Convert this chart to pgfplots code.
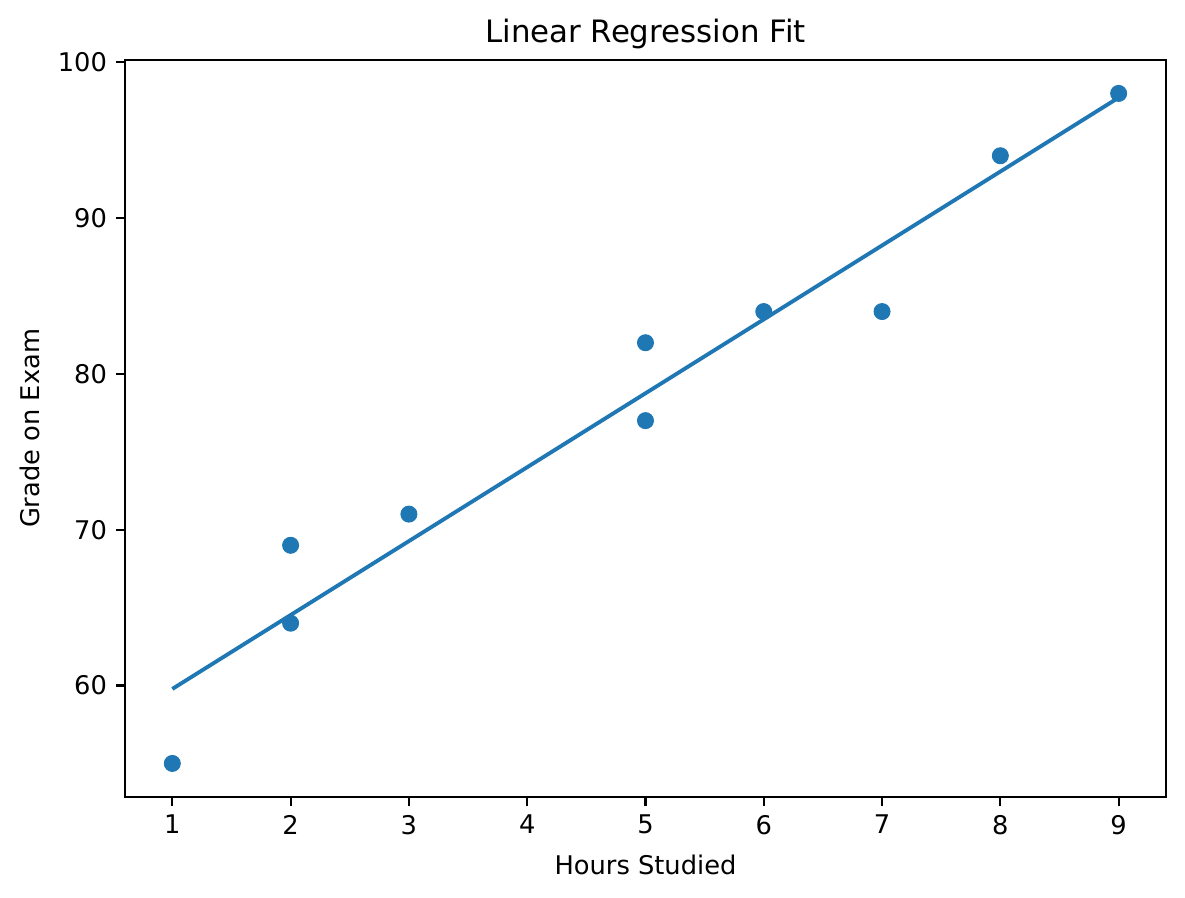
\documentclass[border=0pt]{standalone}
\usepackage{pgfplots}
\pgfplotsset{compat=1.18}
\usepackage{fontspec}
\setmainfont{DejaVu Sans}
\definecolor{mplblue}{HTML}{1F77B4}
\begin{document}
\begin{tikzpicture}
\useasboundingbox (-48.61pt,-39.28pt) rectangle (412.2pt,309.9pt);
\begin{axis}[
  at={(0,0)}, anchor=south west,
  scale only axis, width=404.8pt, height=286.6pt,
  xmin=0.6, xmax=9.4, ymin=52.85, ymax=100.15,
  xtick={1,2,3,4,5,6,7,8,9},
  ytick={60,70,80,90,100},
  tick align=outside, major tick length=3.5pt,
  tick style={line width=0.8pt, black},
  xtick pos=bottom, ytick pos=left,
  axis line style={line width=0.8pt},
  /pgf/number format/assume math mode=true,
  tick label style={font=\fontsize{10}{12}\selectfont},
  title={Linear Regression Fit},
  title style={at={(axis description cs:0.5,1.0366)}, anchor=center, yshift=-6.6pt, font=\fontsize{12}{14}\selectfont},
  xlabel={Hours Studied},
  xlabel style={at={(axis description cs:0.5,-0.0921)}, anchor=center, font=\fontsize{10}{12}\selectfont},
  ylabel={Grade on Exam},
  ylabel style={at={(axis description cs:-0.0914,0.5)}, anchor=center, font=\fontsize{10}{12}\selectfont},
]
\addplot[only marks, mark=*, mark size=3.1pt, mplblue, mark options={draw=mplblue, fill=mplblue}] coordinates {
(1,55) (2,64) (2,69) (3,71) (5,77) (5,82) (6,84) (7,84) (8,94) (9,98)
};
\addplot[no marks, mplblue, line width=1.5pt] coordinates {
(1,59.78) (9,97.73)
};
\end{axis}
\end{tikzpicture}
\end{document}
